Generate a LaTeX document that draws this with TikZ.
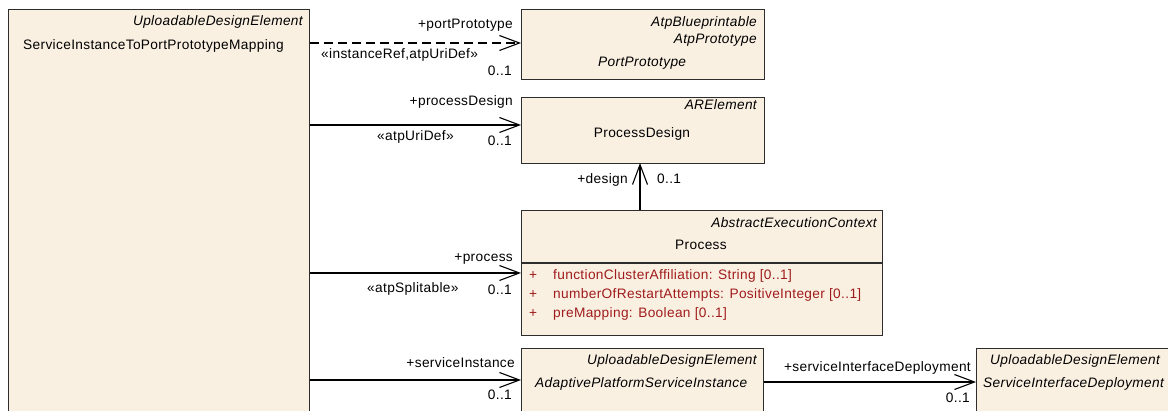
\documentclass[tikz,border=0pt]{standalone}
\usepackage{fontspec}
\setmainfont{Liberation Sans}[LetterSpace=2.5]
\usetikzlibrary{arrows.meta}
\definecolor{boxfill}{RGB}{250,240,226}
\definecolor{boxline}{RGB}{45,45,45}
\definecolor{attrred}{RGB}{160,28,28}
\newcommand\dfont{\fontsize{13.7pt}{16pt}\selectfont}
\begin{document}
\begin{tikzpicture}[x=1pt,y=-1pt,
  cls/.style={draw=boxline, fill=boxfill, line width=1.4pt, rectangle, inner sep=0pt, anchor=north west},
  assoc/.style={draw=black, line width=1.1pt, -{Straight Barb[length=20pt,width=15pt,line width=1.1pt]}},
  dep/.style={assoc, dash pattern=on 9pt off 5pt},
  lbl/.style={inner sep=0pt, font=\dfont},
  ital/.style={lbl, font=\dfont\itshape},
  attr/.style={lbl, text=attrred}
]
\useasboundingbox (0,0) rectangle (1168,411);
% boxes
\node[cls, minimum width=301pt, minimum height=430pt] (map) at (8,9) {};
\node[cls, minimum width=243pt, minimum height=70pt] (pp) at (521,9) {};
\node[cls, minimum width=243pt, minimum height=66pt] (pd) at (521,97) {};
\node[cls, minimum width=361pt, minimum height=125pt] (pr) at (521,210) {};
\node[cls, minimum width=242pt, minimum height=90pt] (apsi) at (521,348) {};
\node[cls, minimum width=230pt, minimum height=90pt] (sid) at (976,348) {};
\coordinate (sepL) at (521,263);
\coordinate (sepR) at (882,263);
\draw[draw=boxline, line width=1.4pt] (sepL) -- (sepR);
% box texts
\node[ital, anchor=base east] (mapSt) at (303,26) {UploadableDesignElement};
\node[lbl, anchor=base west] (mapNm) at (23,50) {ServiceInstanceToPortPrototypeMapping};
\node[ital, anchor=base east] (ppSt1) at (757,27) {AtpBlueprintable};
\node[ital, anchor=base east] (ppSt2) at (757,44) {AtpPrototype};
\node[ital, anchor=base west] (ppNm) at (598,67) {PortPrototype};
\node[ital, anchor=base east] (pdSt) at (757,110) {ARElement};
\node[lbl, anchor=base] (pdNm) at (642,138) {ProcessDesign};
\node[ital, anchor=base east] (prSt) at (877,228) {AbstractExecutionContext};
\node[lbl, anchor=base] (prNm) at (701,250) {Process};
\node[attr, anchor=base west] (a1p) at (529,280) {+};
\node[attr, anchor=base west] (a1) at (553,280) {functionClusterAffiliation: String [0..1]};
\node[attr, anchor=base west] (a2p) at (529,299) {+};
\node[attr, anchor=base west] (a2) at (553,299) {numberOfRestartAttempts: PositiveInteger [0..1]};
\node[attr, anchor=base west] (a3p) at (529,318) {+};
\node[attr, anchor=base west] (a3) at (553,318) {preMapping: Boolean [0..1]};
\node[ital, anchor=base east] (apSt) at (757,365) {UploadableDesignElement};
\node[ital, anchor=base west] (apNm) at (535,388) {AdaptivePlatformServiceInstance};
\node[ital, anchor=base west] (sidSt) at (990,365) {UploadableDesignElement};
\node[ital, anchor=base west] (sidNm) at (983,388) {ServiceInterfaceDeployment};
% connectors
\coordinate (ppIn) at (521,43);
\coordinate (pdIn) at (521,125);
\coordinate (prIn) at (521,273);
\coordinate (apIn) at (521,380);
\coordinate (sidIn) at (976,382);
\coordinate (dsOut) at (640,210);
\coordinate (dsIn) at (640,163);
\draw[dep] (map.east |- ppIn) -- (ppIn);
\draw[assoc] (map.east |- pdIn) -- (pdIn);
\draw[assoc] (map.east |- prIn) -- (prIn);
\draw[assoc] (map.east |- apIn) -- (apIn);
\draw[assoc] (apsi.east |- sidIn) -- (sidIn);
\draw[assoc] (dsOut) -- (dsIn);
% connector labels
\node[lbl, anchor=base east] (l1r) at (513,29) {+portPrototype};
\node[lbl, anchor=base west] (l1s) at (321,59) {«instanceRef,atpUriDef»};
\node[lbl, anchor=base east] (l1m) at (512,76) {0..1};
\node[lbl, anchor=base east] (l2r) at (513,106) {+processDesign};
\node[lbl, anchor=base west] (l2s) at (377,141) {«atpUriDef»};
\node[lbl, anchor=base east] (l2m) at (512,146) {0..1};
\node[lbl, anchor=base east] (l3r) at (628,184) {+design};
\node[lbl, anchor=base west] (l3m) at (657,184) {0..1};
\node[lbl, anchor=base east] (l4r) at (513,262) {+process};
\node[lbl, anchor=base west] (l4s) at (367,293) {«atpSplitable»};
\node[lbl, anchor=base east] (l4m) at (512,295) {0..1};
\node[lbl, anchor=base east] (l5r) at (515,368) {+serviceInstance};
\node[lbl, anchor=base east] (l5m) at (512,400) {0..1};
\node[lbl, anchor=base east] (l6r) at (971,372) {+serviceInterfaceDeployment};
\node[lbl, anchor=base east] (l6m) at (970,403) {0..1};
\end{tikzpicture}
\end{document}
